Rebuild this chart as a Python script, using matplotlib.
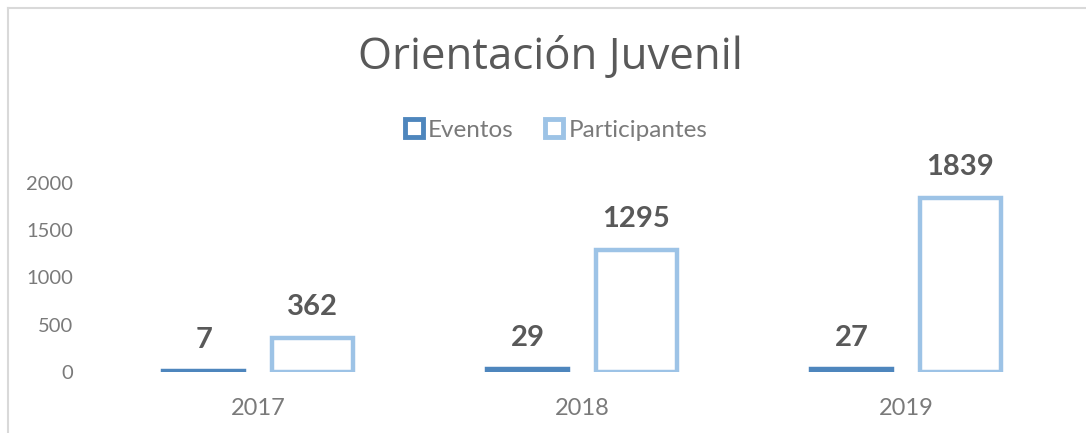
import matplotlib
matplotlib.use("Agg")
import matplotlib.pyplot as plt
from matplotlib.patches import Patch
from matplotlib.lines import Line2D
import numpy as np

plt.rcParams['font.family'] = ['Lato', 'DejaVu Sans']

years = ["2017", "2018", "2019"]
eventos = [7, 29, 27]
participantes = [362, 1295, 1839]
y_ticks = [0, 500, 1000, 1500, 2000]

c_eventos = "#4e86bd"
c_part = "#9dc3e6"
c_text = "#595959"
c_tick = "#7a7a7a"

W, H = 1086, 433
fig = plt.figure(figsize=(W / 100, H / 100), dpi=100)
ax = fig.add_axes([96 / W, 1 - 372 / H, (1068 - 96) / W, (372 - 183) / H])

x = np.arange(len(years))
bw = 0.25
off = 0.168
b1 = ax.bar(x - off, eventos, bw, facecolor="white", edgecolor=c_eventos, linewidth=3.2)
b2 = ax.bar(x + off, participantes, bw, facecolor="white", edgecolor=c_part, linewidth=3.2)
for bars in (b1, b2):
    labels = ax.bar_label(bars, padding=13, fontsize=21, fontweight="bold", color=c_text)
    for t in labels:
        t.set_clip_on(False)

ax.set_xlim(-0.5, 2.5)
ax.set_ylim(0, 2000)
ax.set_yticks(y_ticks)
ax.set_yticklabels([str(v) for v in y_ticks])
ax.set_xticks(x)
ax.set_xticklabels(years)
ax.tick_params(axis="y", length=0, pad=16.5, labelsize=14.5, labelcolor=c_tick)
ax.tick_params(axis="x", length=0, pad=19, labelsize=17, labelcolor=c_tick)
for s in ax.spines.values():
    s.set_visible(False)

fig.text(550 / W, 1 - 58 / H, "Orientación Juvenil", ha="center", va="center",
         fontsize=31.5, color=c_text, family=["Open Sans", "DejaVu Sans"])

handles = [Patch(facecolor="white", edgecolor=c_eventos, linewidth=3.5, label="Eventos"),
           Patch(facecolor="white", edgecolor=c_part, linewidth=3.5, label="Participantes")]
fig.legend(handles=handles, loc="center", bbox_to_anchor=(556 / W, 1 - 130 / H), ncol=2,
           frameon=False, fontsize=17.5, labelcolor=c_tick, handlelength=0.75, handleheight=0.75,
           handletextpad=0.2, columnspacing=1.3)

# thin chart border on the left and top
fig.add_artist(Line2D([8 / W, 8 / W], [0, 1 - 8 / H], color="#d9d9d9", linewidth=1.5,
                      transform=fig.transFigure))
fig.add_artist(Line2D([8 / W, 1], [1 - 8 / H, 1 - 8 / H], color="#d9d9d9", linewidth=1.5,
                      transform=fig.transFigure))

fig.savefig("out.png", dpi=100, facecolor="white")
